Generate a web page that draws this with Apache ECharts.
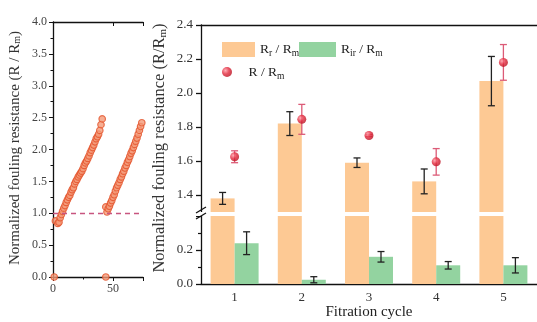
<!DOCTYPE html>
<html>
<head>
<meta charset="utf-8">
<script src="https://cdn.jsdelivr.net/npm/echarts@6/dist/echarts.min.js"></script>
<style>
  html, body { margin: 0; padding: 0; background: #fff; }
  #chart { width: 537px; height: 322px; }
</style>
</head>
<body>
<div id="chart"></div>
<script>
// left panel: fouling resistance over time (two filtration runs)
const run1 = [[1, 0], [2, 0.88], [4, 0.84], [5, 0.86], [6, 0.93], [7, 0.98], [8, 1.03], [9, 1.08], [10, 1.12],
  [11, 1.17], [12, 1.21], [13, 1.25], [14, 1.28], [15, 1.33], [16, 1.37], [17, 1.40], [18, 1.46], [19, 1.50],
  [20, 1.53], [21, 1.57], [22, 1.60], [23, 1.63], [24, 1.66], [25, 1.70], [26, 1.75], [27, 1.79], [28, 1.82],
  [29, 1.86], [30, 1.90], [31, 1.95], [32, 1.99], [33, 2.03], [34, 2.07], [35, 2.12], [36, 2.17], [37, 2.20],
  [38, 2.24], [39, 2.30], [40, 2.39], [41, 2.48]]
const run2 = [[44, 0], [44, 1.10], [45, 1.02], [46, 1.07], [47, 1.11], [48, 1.16], [49, 1.20], [50, 1.25],
  [51, 1.29], [52, 1.35], [53, 1.40], [54, 1.44], [55, 1.48], [56, 1.53], [57, 1.57], [58, 1.62], [59, 1.66],
  [60, 1.71], [61, 1.75], [62, 1.80], [63, 1.84], [64, 1.89], [65, 1.94], [66, 1.98], [67, 2.03], [68, 2.08],
  [69, 2.13], [70, 2.18], [71, 2.24], [72, 2.30], [73, 2.36], [74, 2.42]]

// right panel: resistances per filtration cycle
const cycles = ['1', '2', '3', '4', '5']
const rrMean = [1.38, 1.82, 1.59, 1.48, 2.07]
const rrErr = [0.035, 0.07, 0.028, 0.073, 0.145]
const rirMean = [0.24, 0.025, 0.16, 0.11, 0.11]
const rirErr = [0.067, 0.018, 0.031, 0.022, 0.045]
const rMean = [1.625, 1.845, 1.75, 1.595, 2.18]
const rErr = [0.035, 0.088, 0.006, 0.078, 0.105]

const upperMajor = [1.4, 1.6, 1.8, 2.0, 2.2, 2.4]
const upperMinor = [1.5, 1.7, 1.9, 2.1, 2.3]

const FONT = 'Liberation Serif'
const ORANGE = '#fdc994'
const GREEN = '#93d3a0'
const RED = '#e2283c'

const sub = { fontFamily: FONT, fontSize: 9.5, verticalAlign: 'bottom', lineHeight: 18, color: '#222' }
const norm = { fontFamily: FONT, fontSize: 13.5, lineHeight: 18, color: '#222' }

const legendNames = {
  'Rr / Rm': '{a|R}{s|r}{a| / R}{s|m}',
  'Rir / Rm': '{a|R}{s|ir}{a| / R}{s|m}',
  'R / Rm': '{a|R / R}{s|m}',
}

const errBar = (offset, color, cap) => (params, api) => {
  const i = api.value(0)
  const top = api.coord([i, api.value(2)])
  const bot = api.coord([i, api.value(1)])
  const cx = top[0] + offset
  const st = { stroke: color, lineWidth: 1.3 }
  return {
    type: 'group',
    children: [
      { type: 'line', shape: { x1: cx, y1: top[1], x2: cx, y2: bot[1] }, style: st },
      { type: 'line', shape: { x1: cx - cap, y1: top[1], x2: cx + cap, y2: top[1] }, style: st },
      { type: 'line', shape: { x1: cx - cap, y1: bot[1], x2: cx + cap, y2: bot[1] }, style: st },
    ],
  }
}
const errData = (mean, err) => mean.map((m, i) => [i, m - err[i], m + err[i]])

const axisLine = { lineStyle: { color: '#111', width: 1.3 } }
const fmt1 = (v) => v.toFixed(1)
const legendBase = {
  formatter: (n) => legendNames[n],
  textStyle: { rich: { a: norm, s: sub } },
  itemGap: 0,
}

const chart = echarts.init(document.getElementById('chart'))
chart.setOption({
  animation: false,
  textStyle: { fontFamily: FONT },
  grid: [
    { left: 53, top: 22, width: 90, height: 255 },
    { left: 201, top: 25, width: 342, height: 187 },
    { left: 201, top: 216, width: 342, height: 68 },
  ],
  legend: [
    { ...legendBase, data: ['Rr / Rm'], left: 217, top: 37, itemWidth: 33, itemHeight: 15, icon: 'rect', z: 5 },
    { ...legendBase, data: ['Rir / Rm'], left: 294, top: 37, itemWidth: 37, itemHeight: 15, icon: 'rect', z: 4 },
    { ...legendBase, data: ['R / Rm'], left: 217, top: 60, itemWidth: 33, itemHeight: 10 },
  ],
  xAxis: [
    {
      gridIndex: 0, type: 'value', min: 0, max: 75, interval: 50, position: 'bottom',
      axisLine, splitLine: { show: false },
      axisTick: { length: 4, lineStyle: { color: '#111' } },
      minorTick: { show: true, splitNumber: 2, length: 2.5, lineStyle: { color: '#111' } },
      axisLabel: { fontFamily: FONT, fontSize: 12, color: '#444', showMaxLabel: false, margin: 6 },
    },
    {
      gridIndex: 0, type: 'value', min: 0, max: 75, interval: 50, position: 'top',
      axisLine, splitLine: { show: false },
      axisTick: { inside: true, length: 4, lineStyle: { color: '#111' } },
      axisLabel: { show: false },
    },
    {
      gridIndex: 1, type: 'category', data: cycles, position: 'top',
      axisLine, axisTick: { alignWithLabel: true, inside: true, length: 5, lineStyle: { color: '#111', width: 1.3 } },
      axisLabel: { show: false },
    },
    {
      gridIndex: 2, type: 'category', data: cycles, position: 'bottom',
      axisLine, axisTick: { alignWithLabel: true, length: 5, lineStyle: { color: '#111', width: 1.3 } },
      axisLabel: { fontFamily: FONT, fontSize: 13, color: '#333', margin: 7 },
      name: 'Fitration cycle', nameLocation: 'middle', nameGap: 21,
      nameTextStyle: { fontFamily: FONT, fontSize: 15, color: '#222' },
    },
  ],
  yAxis: [
    {
      gridIndex: 0, type: 'value', min: 0, max: 4, interval: 0.5,
      axisLine: { show: true, lineStyle: { color: '#111', width: 1.3 } }, splitLine: { show: false },
      axisTick: { show: true, length: 4, lineStyle: { color: '#111' } },
      minorTick: { show: true, splitNumber: 2, length: 2.5, lineStyle: { color: '#111' } },
      axisLabel: { fontFamily: FONT, fontSize: 12, color: '#444', formatter: fmt1, margin: 6 },
    },
    {
      gridIndex: 1, type: 'value', min: 1.3, max: 2.4,
      axisLine: { show: true, lineStyle: { color: '#111', width: 1.3 } }, splitLine: { show: false },
      axisTick: { show: true, customValues: upperMajor, length: 5, lineStyle: { color: '#111', width: 1.3 } },
      axisLabel: { customValues: upperMajor, fontFamily: FONT, fontSize: 13, color: '#333', formatter: fmt1, margin: 8 },
    },
    {
      gridIndex: 1, type: 'value', min: 1.3, max: 2.4,
      axisLine: { show: false }, splitLine: { show: false },
      axisTick: { show: true, customValues: upperMinor, length: 3, lineStyle: { color: '#111', width: 1.2 } },
      axisLabel: { show: false },
    },
    {
      gridIndex: 2, type: 'value', min: 0, max: 0.4, interval: 0.2,
      axisLine: { show: true, lineStyle: { color: '#111', width: 1.3 } }, splitLine: { show: false },
      axisTick: { show: true, length: 5, lineStyle: { color: '#111', width: 1.3 } },
      minorTick: { show: true, splitNumber: 2, length: 3, lineStyle: { color: '#111', width: 1.2 } },
      axisLabel: { fontFamily: FONT, fontSize: 13, color: '#333', formatter: fmt1, showMaxLabel: false, margin: 8 },
    },
  ],
  graphic: [
    {
      type: 'text', x: 15, y: 148, rotation: Math.PI / 2,
      style: {
        text: '{a|Normalized fouling resistance (R / R}{s|m}{a|)}',
        align: 'center', verticalAlign: 'middle',
        rich: { a: { fontFamily: FONT, fontSize: 15, fill: '#333' }, s: { fontFamily: FONT, fontSize: 10, fill: '#333', verticalAlign: 'bottom' } },
      },
    },
    {
      type: 'text', x: 160, y: 148, rotation: Math.PI / 2,
      style: {
        text: '{a|Normalized fouling resistance (R/R}{s|m}{a|)}',
        align: 'center', verticalAlign: 'middle',
        rich: { a: { fontFamily: FONT, fontSize: 16.5, fill: '#333' }, s: { fontFamily: FONT, fontSize: 11, fill: '#333', verticalAlign: 'bottom' } },
      },
    },
    { type: 'rect', shape: { x: 196, y: 212, width: 10, height: 4 }, style: { fill: '#fff' }, z: 100 },
    { type: 'line', shape: { x1: 196, y1: 213, x2: 206, y2: 207 }, style: { stroke: '#111', lineWidth: 1.3 }, z: 101 },
    { type: 'line', shape: { x1: 196, y1: 219, x2: 206, y2: 213 }, style: { stroke: '#111', lineWidth: 1.3 }, z: 101 },
  ],
  series: [
    {
      type: 'scatter', xAxisIndex: 0, yAxisIndex: 0, data: run1, symbolSize: 6.5,
      itemStyle: { color: '#f49a78', borderColor: '#e3532b', borderWidth: 1.2 },
      markLine: {
        silent: true, symbol: 'none', label: { show: false },
        lineStyle: { color: '#c8557f', type: [5, 4], width: 1.3 },
        data: [{ yAxis: 1 }],
      },
    },
    {
      type: 'scatter', xAxisIndex: 0, yAxisIndex: 0, data: run2, symbolSize: 6.5,
      itemStyle: { color: '#f49a78', borderColor: '#e3532b', borderWidth: 1.2 },
    },
    { name: 'Rr / Rm', type: 'bar', xAxisIndex: 2, yAxisIndex: 1, data: rrMean, barWidth: 24, barGap: '0%', itemStyle: { color: ORANGE } },
    { name: 'Rir / Rm', type: 'bar', xAxisIndex: 2, yAxisIndex: 1, data: rirMean.map(() => '-'), barWidth: 24, itemStyle: { color: GREEN } },
    { name: 'Rr / Rm', type: 'bar', xAxisIndex: 3, yAxisIndex: 3, data: rrMean, barWidth: 24, barGap: '0%', itemStyle: { color: ORANGE } },
    { name: 'Rir / Rm', type: 'bar', xAxisIndex: 3, yAxisIndex: 3, data: rirMean, barWidth: 24, itemStyle: { color: GREEN } },
    {
      type: 'custom', xAxisIndex: 2, yAxisIndex: 1, renderItem: errBar(-12, '#222', 3.5),
      data: errData(rrMean, rrErr), encode: { x: 0, y: [1, 2] }, z: 5,
    },
    {
      type: 'custom', xAxisIndex: 3, yAxisIndex: 3, renderItem: errBar(12, '#222', 3.5),
      data: errData(rirMean, rirErr), encode: { x: 0, y: [1, 2] }, z: 5,
    },
    {
      type: 'custom', xAxisIndex: 2, yAxisIndex: 1, renderItem: errBar(0, '#dc5b77', 3.5),
      data: errData(rMean, rErr), encode: { x: 0, y: [1, 2] }, z: 5,
    },
    {
      name: 'R / Rm', type: 'scatter', xAxisIndex: 2, yAxisIndex: 1, data: rMean, symbolSize: 9, z: 6,
      itemStyle: {
        color: new echarts.graphic.RadialGradient(0.35, 0.35, 0.7, [
          { offset: 0, color: '#ff9aa4' },
          { offset: 0.5, color: RED },
          { offset: 1, color: '#b8101f' },
        ]),
      },
    },
  ],
})
</script>
</body>
</html>
